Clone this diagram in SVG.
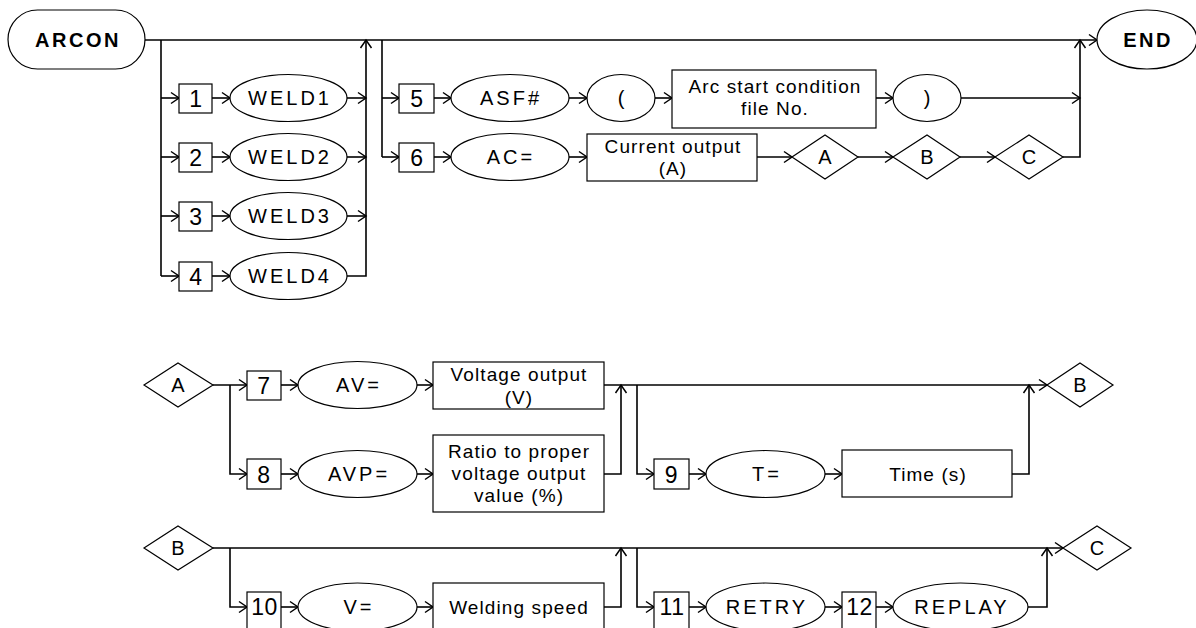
<svg xmlns="http://www.w3.org/2000/svg" width="1196" height="628" viewBox="0 0 1196 628">
<style>
.s{fill:#fff;stroke:#000;stroke-width:1.2}
.c{fill:none;stroke:#000;stroke-width:1.6}
text{font-family:"Liberation Sans",Arial,sans-serif;fill:#000;text-anchor:middle}
.e{font-size:20px;letter-spacing:3px}
.r{font-size:19px;letter-spacing:1.1px}
.n{font-size:23px;letter-spacing:0.5px}
.b{font-size:20px;font-weight:bold;letter-spacing:2.5px}
.d{font-size:20px}
</style>
<defs>
<marker id="ah" viewBox="-10 -7 12 14" refX="0" refY="0" markerWidth="12" markerHeight="14" markerUnits="userSpaceOnUse" orient="auto">
<path d="M-8,-5.5 L0,0 L-8,5.5" fill="none" stroke="#000" stroke-width="1.5"/>
</marker>
</defs>
<g id="connectors" class="c">
<path d="M144,40 H1097" marker-end="url(#ah)"/>
<path d="M161,40 V276"/>
<path d="M161,98 H179" marker-end="url(#ah)"/>
<path d="M161,157 H179" marker-end="url(#ah)"/>
<path d="M161,216 H179" marker-end="url(#ah)"/>
<path d="M161,276 H179" marker-end="url(#ah)"/>
<path d="M212,98 H230" marker-end="url(#ah)"/>
<path d="M212,157 H230" marker-end="url(#ah)"/>
<path d="M212,216 H230" marker-end="url(#ah)"/>
<path d="M212,276 H230" marker-end="url(#ah)"/>
<path d="M347,98 H366" marker-end="url(#ah)"/>
<path d="M347,157 H366" marker-end="url(#ah)"/>
<path d="M347,216 H366" marker-end="url(#ah)"/>
<path d="M347,276 H366 V40" marker-end="url(#ah)"/>
<path d="M382,40 V157"/>
<path d="M382,98 H399" marker-end="url(#ah)"/>
<path d="M382,157 H399" marker-end="url(#ah)"/>
<path d="M434,98 H451" marker-end="url(#ah)"/>
<path d="M569,98 H587" marker-end="url(#ah)"/>
<path d="M655,98 H672" marker-end="url(#ah)"/>
<path d="M876,98 H893" marker-end="url(#ah)"/>
<path d="M961,98 H1080" marker-end="url(#ah)"/>
<path d="M434,157 H451" marker-end="url(#ah)"/>
<path d="M569,157 H587" marker-end="url(#ah)"/>
<path d="M757,157 H792" marker-end="url(#ah)"/>
<path d="M858,157 H893" marker-end="url(#ah)"/>
<path d="M960,157 H995" marker-end="url(#ah)"/>
<path d="M1063,157 H1080 V40" marker-end="url(#ah)"/>

<path d="M213,385 H247" marker-end="url(#ah)"/>
<path d="M230,385 V474 H247" marker-end="url(#ah)"/>
<path d="M281,385 H298" marker-end="url(#ah)"/>
<path d="M417,385 H433" marker-end="url(#ah)"/>
<path d="M281,474 H298" marker-end="url(#ah)"/>
<path d="M417,474 H433" marker-end="url(#ah)"/>
<path d="M604,385 H1047" marker-end="url(#ah)"/>
<path d="M604,474 H621 V385" marker-end="url(#ah)"/>
<path d="M637,385 V474 H654" marker-end="url(#ah)"/>
<path d="M689,474 H706" marker-end="url(#ah)"/>
<path d="M825,474 H842" marker-end="url(#ah)"/>
<path d="M1012,474 H1029 V385" marker-end="url(#ah)"/>

<path d="M213,548 H1063" marker-end="url(#ah)"/>
<path d="M230,548 V607 H247" marker-end="url(#ah)"/>
<path d="M281,607 H298" marker-end="url(#ah)"/>
<path d="M417,607 H433" marker-end="url(#ah)"/>
<path d="M604,607 H621 V548" marker-end="url(#ah)"/>
<path d="M637,548 V607 H654" marker-end="url(#ah)"/>
<path d="M689,607 H706" marker-end="url(#ah)"/>
<path d="M825,607 H842" marker-end="url(#ah)"/>
<path d="M876,607 H893" marker-end="url(#ah)"/>
<path d="M1028,607 H1047 V548" marker-end="url(#ah)"/>
</g>

<g id="arcon"><rect class="s" x="8" y="10" width="137" height="59" rx="29.5"/><text class="b" x="78" y="47">ARCON</text></g>
<g id="end"><ellipse class="s" cx="1147" cy="39.5" rx="50" ry="29.5"/><text class="b" x="1148" y="47">END</text></g>

<g id="n1"><rect class="s" x="179" y="84" width="33" height="29"/><text class="n" x="196" y="107">1</text></g>
<g id="n2"><rect class="s" x="179" y="143" width="33" height="29"/><text class="n" x="196" y="166">2</text></g>
<g id="n3"><rect class="s" x="179" y="202" width="33" height="29"/><text class="n" x="196" y="225">3</text></g>
<g id="n4"><rect class="s" x="179" y="262" width="33" height="29"/><text class="n" x="196" y="285">4</text></g>
<g id="weld1"><ellipse class="s" cx="288.5" cy="98" rx="58.5" ry="23.5"/><text class="e" x="290" y="105">WELD1</text></g>
<g id="weld2"><ellipse class="s" cx="288.5" cy="157" rx="58.5" ry="23.5"/><text class="e" x="290" y="164">WELD2</text></g>
<g id="weld3"><ellipse class="s" cx="288.5" cy="216" rx="58.5" ry="23.5"/><text class="e" x="290" y="223">WELD3</text></g>
<g id="weld4"><ellipse class="s" cx="288.5" cy="276" rx="58.5" ry="23.5"/><text class="e" x="290" y="283">WELD4</text></g>

<g id="n5"><rect class="s" x="399" y="84" width="35" height="29"/><text class="n" x="417" y="107">5</text></g>
<g id="asf"><ellipse class="s" cx="510" cy="98" rx="59" ry="23.5"/><text class="e" x="511" y="105">ASF#</text></g>
<g id="lparen"><ellipse class="s" cx="621" cy="98" rx="34" ry="23.5"/><text class="d" x="621" y="105">(</text></g>
<g id="asfno"><rect class="s" x="672" y="70" width="204" height="58"/><text class="r" x="775" y="93">Arc start condition</text><text class="r" x="775" y="115">file No.</text></g>
<g id="rparen"><ellipse class="s" cx="927" cy="98" rx="34" ry="23.5"/><text class="d" x="927" y="105">)</text></g>

<g id="n6"><rect class="s" x="399" y="143" width="35" height="29"/><text class="n" x="417" y="166">6</text></g>
<g id="ac"><ellipse class="s" cx="510" cy="157" rx="59" ry="23.5"/><text class="e" x="511" y="164">AC=</text></g>
<g id="curr"><rect class="s" x="587" y="134" width="170" height="47"/><text class="r" x="673" y="153">Current output</text><text class="r" x="673" y="175">(A)</text></g>
<g id="dA1"><polygon class="s" points="792,157 825,135 858,157 825,179"/><text class="d" x="825" y="164">A</text></g>
<g id="dB1"><polygon class="s" points="893,157 927,135 960,157 927,179"/><text class="d" x="927" y="164">B</text></g>
<g id="dC1"><polygon class="s" points="995,157 1029,135 1063,157 1029,179"/><text class="d" x="1029" y="164">C</text></g>

<g id="dA2"><polygon class="s" points="144,385 178,363 213,385 178,407"/><text class="d" x="178" y="392">A</text></g>
<g id="n7"><rect class="s" x="247" y="371" width="34" height="29"/><text class="n" x="264" y="394">7</text></g>
<g id="av"><ellipse class="s" cx="357.5" cy="385" rx="59.5" ry="23.5"/><text class="e" x="359" y="392">AV=</text></g>
<g id="volt"><rect class="s" x="433" y="362" width="171" height="47"/><text class="r" x="519" y="381">Voltage output</text><text class="r" x="519" y="404">(V)</text></g>
<g id="n8"><rect class="s" x="247" y="459" width="34" height="30"/><text class="n" x="264" y="483">8</text></g>
<g id="avp"><ellipse class="s" cx="357.5" cy="474" rx="59.5" ry="23.5"/><text class="e" x="359" y="481">AVP=</text></g>
<g id="ratio"><rect class="s" x="433" y="435" width="171" height="77"/><text class="r" x="519" y="458">Ratio to proper</text><text class="r" x="519" y="480">voltage output</text><text class="r" x="519" y="502">value (%)</text></g>
<g id="n9"><rect class="s" x="654" y="459" width="35" height="30"/><text class="n" x="671.5" y="483">9</text></g>
<g id="t"><ellipse class="s" cx="765.5" cy="474" rx="59.5" ry="23.5"/><text class="e" x="767" y="481">T=</text></g>
<g id="time"><rect class="s" x="842" y="450" width="170" height="47"/><text class="r" x="928" y="481">Time (s)</text></g>
<g id="dB2"><polygon class="s" points="1047,385 1080,363 1113,385 1080,407"/><text class="d" x="1080" y="392">B</text></g>

<g id="dB3"><polygon class="s" points="144,548 178,526 213,548 178,570"/><text class="d" x="178" y="555">B</text></g>
<g id="n10"><rect class="s" x="247" y="592" width="34" height="40"/><text class="n" x="264.5" y="615">10</text></g>
<g id="v"><ellipse class="s" cx="357.5" cy="607" rx="59.5" ry="24"/><text class="e" x="359" y="614">V=</text></g>
<g id="speed"><rect class="s" x="433" y="583" width="171" height="50"/><text class="r" x="519" y="614">Welding speed</text></g>
<g id="n11"><rect class="s" x="654" y="592" width="35" height="40"/><text class="n" x="672" y="615">11</text></g>
<g id="retry"><ellipse class="s" cx="765.5" cy="607" rx="59.5" ry="24"/><text class="e" x="767" y="614">RETRY</text></g>
<g id="n12"><rect class="s" x="842" y="592" width="34" height="40"/><text class="n" x="859.5" y="615">12</text></g>
<g id="replay"><ellipse class="s" cx="960.5" cy="607" rx="67.5" ry="24"/><text class="e" x="962" y="614">REPLAY</text></g>
<g id="dC2"><polygon class="s" points="1063,548 1097,526 1131,548 1097,570"/><text class="d" x="1097" y="555">C</text></g>
</svg>
